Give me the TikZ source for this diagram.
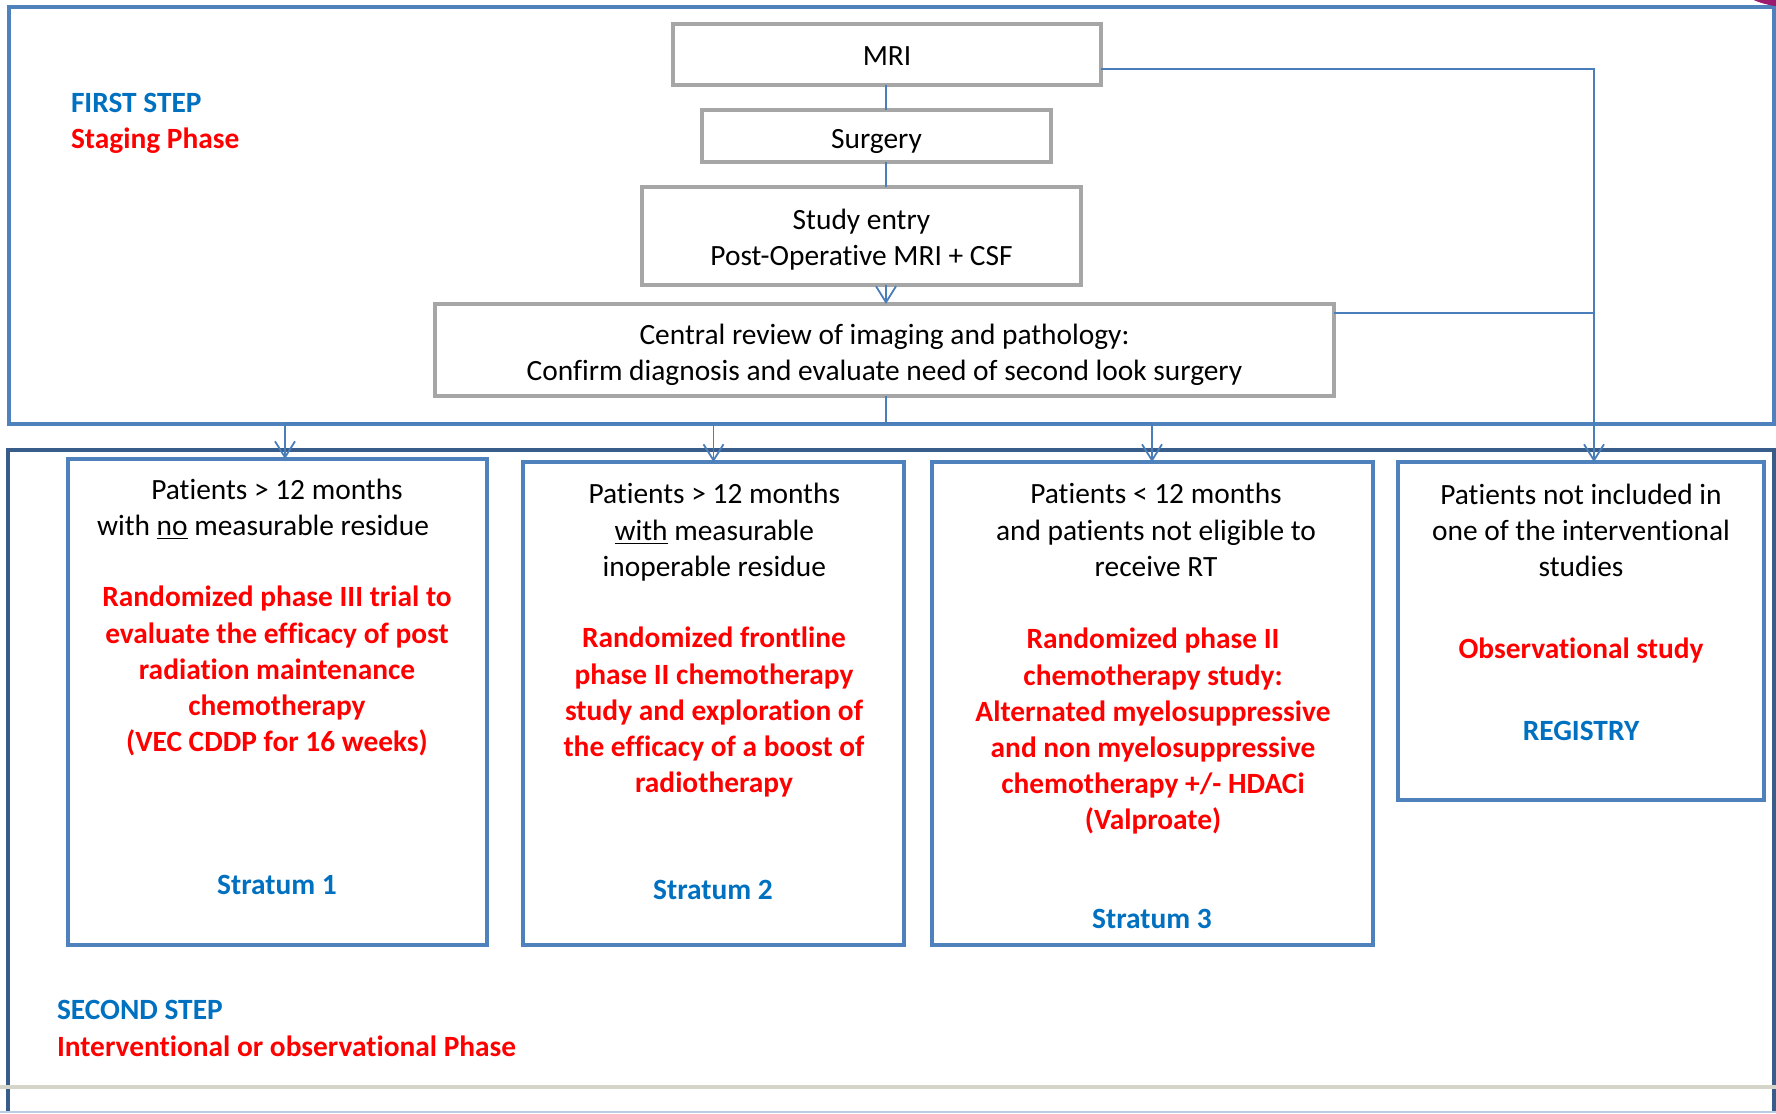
\documentclass[tikz,border=0pt]{standalone}
\usepackage{fontspec}
\setmainfont{Carlito}[Ligatures={TeX,NoCommon}]
\usetikzlibrary{arrows.meta}

\definecolor{stepblue}{HTML}{0070C0}
\definecolor{phasered}{HTML}{FF0000}
\definecolor{frameblue}{HTML}{4F81BD}
\definecolor{framedark}{HTML}{385D8A}
\definecolor{linkblue}{HTML}{4A7EBB}
\definecolor{boxgray}{HTML}{A6A6A6}
\definecolor{rulegray}{HTML}{D4D4C8}
\definecolor{cornerplum}{HTML}{9B1B6E}

\newcommand{\flowfont}{\fontsize{14.7}{18.1}\selectfont}

\tikzset{
  every node/.style={font=\flowfont, inner sep=0pt, outer sep=0pt},
  graybox/.style={draw=boxgray, line width=2.3pt, fill=white},
  stratbox/.style={draw=frameblue, line width=2.4pt},
  plain/.style={align=center},
  trial/.style={align=center, text=phasered, font=\flowfont\bfseries},
  stratum/.style={text=stepblue, font=\flowfont\bfseries},
  link/.style={draw=linkblue, line width=0.9pt},
  linkarrow/.style={link, -{Straight Barb[length=8pt,width=10pt,line width=0.9pt]}},
}

\begin{document}
\begin{tikzpicture}[x=0.5pt,y=-0.5pt]
\useasboundingbox (0,0) rectangle (1776,1113);

% frames of the two steps
\draw[frameblue, line width=2pt] (9,7) rectangle (1774,424);
\draw[framedark, line width=2pt] (8,1113) -- (8,450) -- (1774,450) -- (1774,1113);
\draw[rulegray, line width=2pt] (0,1087) -- (1776,1087);
\draw[frameblue!40, line width=0.6pt] (0,1112) -- (1776,1112);
\begin{scope}
\clip (0,0) rectangle (1776,1113);
\fill[cornerplum] (1800,-12) ellipse (58 and 20);
\end{scope}

\node[anchor=west, text=stepblue, font=\flowfont\bfseries] (first) at (71,103) {FIRST STEP};
\node[anchor=west, text=phasered, font=\flowfont\bfseries] (staging) at (71,140.3) {Staging Phase};
\node[anchor=west, text=stepblue, font=\flowfont\bfseries] (second) at (57,1010) {SECOND STEP};
\node[anchor=west, text=phasered, font=\flowfont\bfseries] (interv) at (57,1046) {Interventional or observational Phase};

% staging boxes
\node[graybox, minimum width=214pt, minimum height=30.5pt] (mri) at (887,54.5) {};
\node[graybox, minimum width=174.5pt, minimum height=26pt] (surg) at (876.5,136) {};
\node[graybox, minimum width=219.5pt, minimum height=49pt] (entry) at (861.5,236) {};
\node[graybox, minimum width=449.5pt, minimum height=46pt] (review) at (884.5,350) {};

\node (mritext) at (887,55.6) {MRI};
\node (surgtext) at (876.5,141.7) {Surgery};
\node[plain] (entrytext) at (861.5,239.4) {Study entry\\Post-Operative MRI + CSF};
\node[plain] (reviewtext) at (884.5,354.5)
  {Central review of imaging and pathology:\\Confirm diagnosis and evaluate need of second look surgery};

% strata boxes
\node[stratbox, minimum width=209.5pt, minimum height=243pt] (s1) at (277.5,702) {};
\node[stratbox, minimum width=190.5pt, minimum height=241.5pt] (s2) at (713.5,703.5) {};
\node[stratbox, minimum width=220.5pt, minimum height=241.5pt] (s3) at (1152.5,703.5) {};
\node[stratbox, minimum width=183pt, minimum height=169pt] (reg) at (1581,631) {};

\node[plain] (s1who) at (277,509.3) {Patients > 12 months\\with \underline{no} measurable residue\hspace*{14pt}};
\node[trial] (s1what) at (277,671.3) {Randomized phase III trial to\\evaluate the efficacy of post\\radiation maintenance\\chemotherapy\\(VEC CDDP for 16 weeks)};
\node[stratum] (s1name) at (277,885) {Stratum 1};

\node[plain] (s2who) at (714.3,532.3) {Patients > 12 months\\\underline{with} measurable\\inoperable residue};
\node[trial] (s2what) at (714,712.3) {Randomized frontline\\phase II chemotherapy\\study and exploration of\\the efficacy of a boost of\\radiotherapy};
\node[stratum] (s2name) at (713,890) {Stratum 2};

\node[plain] (s3who) at (1156,530) {Patients < 12 months\\and patients not eligible to\\receive RT};
\node[trial] (s3what) at (1153,731.4) {Randomized phase II\\chemotherapy study:\\Alternated myelosuppressive\\and non myelosuppressive\\chemotherapy +/- HDACi\\(Valproate)};
\node[stratum] (s3name) at (1152,919) {Stratum 3};

\node[plain] (regwho) at (1581,530.5) {Patients not included in\\one of the interventional\\studies};
\node[trial] (regwhat) at (1581,650) {Observational study};
\node[stratum] (regname) at (1581,731) {REGISTRY};

% connectors
\coordinate (bend) at (1594,69);
\coordinate (join) at (1594,313);
\coordinate (hub) at (886,423);
\coordinate (hubl) at (285,423);
\coordinate (hubr) at (1152,423);

\draw[link] (mri.south -| hub) -- (surg.north -| hub);
\draw[link] (surg.south -| hub) -- (entry.north -| hub);
\draw[linkarrow] (entry.south -| hub) -- (review.north -| hub);
\draw[linkarrow] (mri.east |- bend) -- (bend) -- (reg.north -| bend);
\draw[link] (review.east |- join) -- (join);
\draw[link] (review.south -| hub) -- (hub);
\draw[link] (hubl) -- (hubr);
\draw[linkarrow] (hubl) -- (s1.north -| hubl);
\draw[linkarrow] (hubl -| s2) -- (s2.north);
\draw[linkarrow] (hubr) -- (s3.north -| hubr);
\end{tikzpicture}
\end{document}
